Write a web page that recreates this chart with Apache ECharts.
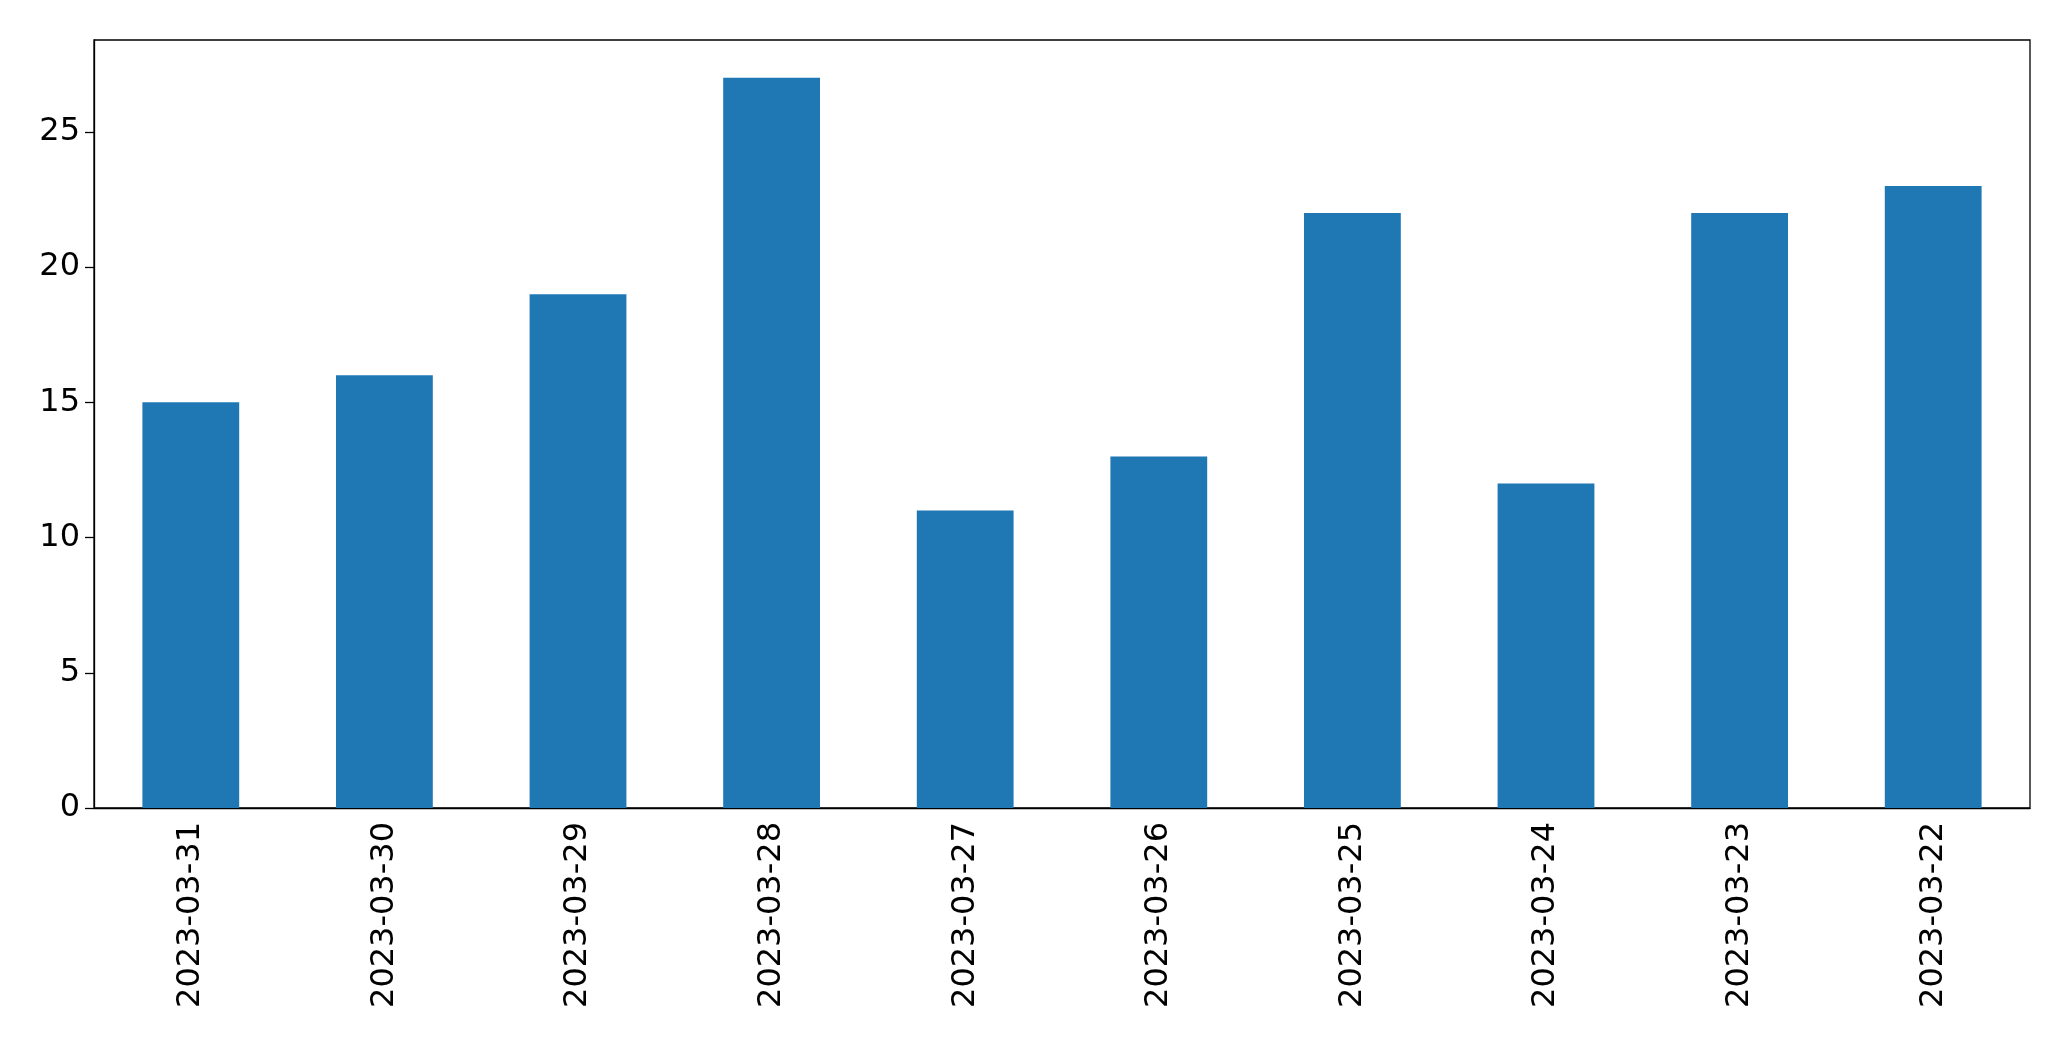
<!DOCTYPE html>
<html>
<head>
<meta charset="utf-8">
<script src="https://cdn.jsdelivr.net/npm/echarts@6/dist/echarts.min.js"></script>
<style>html,body{margin:0;padding:0;background:#fff}#chart{width:2071px;height:1061px}</style>
</head>
<body>
<div id="chart"></div>
<script>
var categories = ['2023-03-31', '2023-03-30', '2023-03-29', '2023-03-28', '2023-03-27',
                  '2023-03-26', '2023-03-25', '2023-03-24', '2023-03-23', '2023-03-22'];
var values = [15, 16, 19, 27, 11, 13, 22, 12, 22, 23];

var chart = echarts.init(document.getElementById('chart'));
var font = {fontFamily: 'DejaVu Sans', fontSize: 32, color: '#000'};
chart.setOption({
    animation: false,
    grid: {left: 94, right: 41, top: 40, bottom: 253, containLabel: false,
           show: true, borderColor: '#000', borderWidth: 1.3},
    xAxis: {
        type: 'category',
        data: categories,
        axisLine: {lineStyle: {color: '#000', width: 1.3}},
        axisTick: {alignWithLabel: true, length: 9, lineStyle: {color: '#000', width: 1.3}},
        axisLabel: Object.assign({rotate: 90, margin: 14}, font)
    },
    yAxis: {
        type: 'value',
        min: 0, max: 28.4, interval: 5,
        splitLine: {show: false},
        axisLine: {show: true, lineStyle: {color: '#000', width: 1.3}},
        axisTick: {show: true, length: 9, lineStyle: {color: '#000', width: 1.3}},
        axisLabel: Object.assign({margin: 14, showMaxLabel: false}, font)
    },
    series: [{
        type: 'bar',
        data: values,
        barWidth: '50%',
        itemStyle: {color: '#1f77b4'}
    }]
});
</script>
</body>
</html>
